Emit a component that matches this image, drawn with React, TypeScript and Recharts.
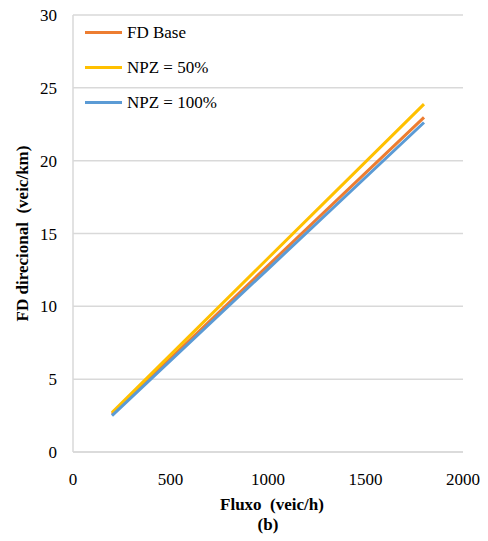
import React from 'react';
import { LineChart, Line, XAxis, YAxis, CartesianGrid } from 'recharts';

const fluxo = [200, 1000, 1800];
const fdBase = [2.6, 12.8, 22.97];
const npz50 = [2.7, 13.3, 23.88];
const npz100 = [2.5, 12.56, 22.62];

const xTicks = [0, 500, 1000, 1500, 2000];
const yTicks = [0, 5, 10, 15, 20, 25, 30];

const series = [
  { key: 'fdBase', name: 'FD Base', color: '#ED7D31' },
  { key: 'npz50', name: 'NPZ = 50%', color: '#FFC000' },
  { key: 'npz100', name: 'NPZ = 100%', color: '#5B9BD5' },
];

const data = fluxo.map((x, i) => ({
  fluxo: x,
  fdBase: fdBase[i],
  npz50: npz50[i],
  npz100: npz100[i],
}));

const FONT = 'Liberation Serif';

// legend sits inside the plot, top-left
const LegendBox = () => (
  <div style={{ position: 'absolute', left: 85, top: 15, fontFamily: FONT, fontSize: 17, color: '#000' }}>
    {series.map((s) => (
      <div key={s.key} style={{ display: 'flex', alignItems: 'center', height: 35, whiteSpace: 'nowrap' }}>
        <span style={{ display: 'inline-block', width: 37, height: 3, background: s.color, marginRight: 5 }} />
        <span>{s.name}</span>
      </div>
    ))}
  </div>
);

const XLabel = (props: any) => {
  const { viewBox } = props;
  const cx = viewBox.x + viewBox.width / 2;
  return (
    <g fontFamily={FONT} fontWeight="bold" fontSize={17} fill="#000" textAnchor="middle">
      <text x={cx + 4} y={510}>{'Fluxo\u00a0 (veic/h)'}</text>
      <text x={cx} y={530}>(b)</text>
    </g>
  );
};

const YLabel = (props: any) => {
  const { viewBox } = props;
  const cy = viewBox.y + viewBox.height / 2;
  return (
    <text
      x={28}
      y={cy}
      transform={`rotate(-90, 28, ${cy})`}
      fill="#000"
      textAnchor="middle"
      fontFamily={FONT}
      fontWeight="bold"
      fontSize={17}
    >
      {'FD direcional\u00a0 (veic/km)'}
    </text>
  );
};

const tickStyle = { fill: '#000', fontSize: 17, fontFamily: FONT };

export default function App() {
  return (
    <div style={{ position: 'absolute', left: 0, top: 0, width: 488, height: 541, background: '#fff', fontFamily: FONT }}>
      <LineChart
        width={488}
        height={541}
        data={data}
        margin={{ top: 15, right: 25, left: 13, bottom: 9 }}
      >
        <CartesianGrid vertical={false} stroke="#d9d9d9" strokeWidth={1.5} />
        <XAxis
          dataKey="fluxo"
          type="number"
          domain={[0, 2000]}
          ticks={xTicks}
          tickLine={false}
          tickSize={0}
          tickMargin={21}
          height={80}
          stroke="#d9d9d9"
          strokeWidth={1.5}
          tick={tickStyle}
          label={<XLabel />}
        />
        <YAxis
          type="number"
          domain={[0, 30]}
          ticks={yTicks}
          tickLine={false}
          tickSize={0}
          tickMargin={16}
          width={60}
          stroke="#d9d9d9"
          strokeWidth={1.5}
          tick={tickStyle}
          label={<YLabel />}
        />
        {series.map((s) => (
          <Line
            key={s.key}
            dataKey={s.key}
            name={s.name}
            stroke={s.color}
            strokeWidth={3}
            dot={false}
            activeDot={false}
            isAnimationActive={false}
          />
        ))}
      </LineChart>
      <LegendBox />
    </div>
  );
}
